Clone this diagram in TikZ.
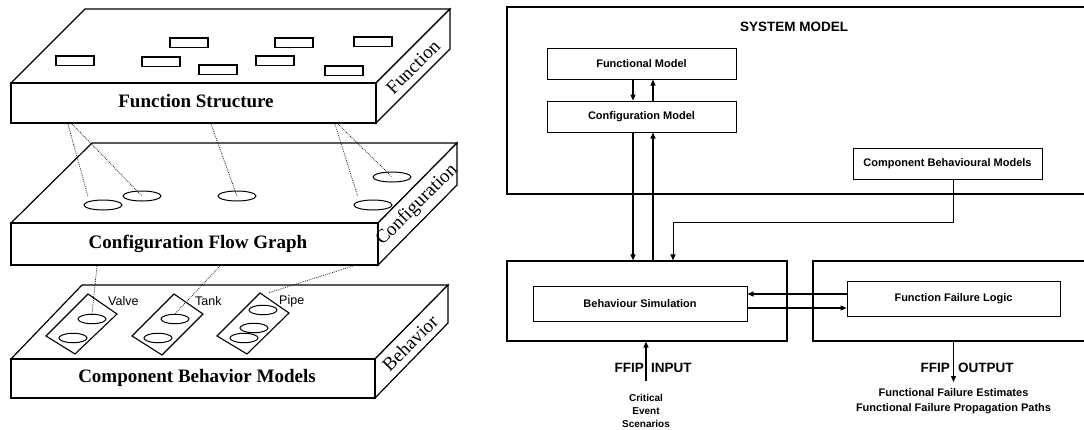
\documentclass[tikz,border=0pt]{standalone}
\usepackage{fontspec}
\setmainfont{Liberation Serif}
\setsansfont{Liberation Sans}
\usetikzlibrary{shapes.geometric,arrows.meta}

\begin{document}
\begin{tikzpicture}[x=1pt, y=-1pt,
  slab/.style={line width=1.2pt, fill=white},
  slabtext/.style={font=\fontsize{19}{22}\selectfont\bfseries, inner sep=0pt},
  sidetext/.style={font=\fontsize{19}{22}\selectfont, rotate=45, inner sep=0pt},
  fbox/.style={line width=1.1pt},
  cell/.style={draw, ellipse, line width=1pt, minimum width=38pt, minimum height=10pt, inner sep=0pt},
  part/.style={draw, ellipse, line width=1pt, minimum width=28pt, minimum height=9.5pt, inner sep=0pt},
  partname/.style={font=\sffamily\fontsize{12.5}{14}\selectfont, anchor=base west, inner sep=0pt},
  link/.style={line width=0.7pt, dash pattern=on 0.8pt off 1.1pt},
  model/.style={draw, line width=1pt, minimum width=189pt, minimum height=31pt, inner sep=0pt,
    font=\sffamily\bfseries\fontsize{11}{13}\selectfont},
  frame/.style={draw, line width=1.2pt, inner sep=0pt},
  arr/.style={line width=1.2pt, -{Triangle[length=6pt,width=5pt]}},
  io/.style={font=\sffamily\bfseries\fontsize{13.5}{16}\selectfont, inner sep=0pt},
  ]
  \useasboundingbox (0,0) rectangle (1084,429);
  \clip (0,0) rectangle (1084,429);

  % function layer
  \draw[slab] (11,83) -- (85,9) -- (450,9) -- (376,83) -- cycle;
  \draw[slab] (376,83) -- (450,9) -- (450,49) -- (376,123) -- cycle;
  \draw[slab] (11,83) rectangle (376,123);
  \node[slabtext, anchor=base] (fs) at (196,107) {Function Structure};
  \node[sidetext] (fside) at (413,67) {Function};
  \foreach \x/\y in {56/56, 170/38, 142/57, 199/65, 256/56, 275/38, 354/37, 325/66}
    \draw[fbox] (\x,\y) rectangle ++(38,9.5);

  % configuration layer
  \draw[slab] (11,223) -- (92,143) -- (457,143) -- (378,223) -- cycle;
  \draw[slab] (378,223) -- (457,143) -- (457,185) -- (378,265) -- cycle;
  \draw[slab] (11,223) rectangle (378,265);
  \node[slabtext, anchor=base] (cfg) at (198,248) {Configuration Flow Graph};
  \node[sidetext] (cside) at (417,205) {Configuration};
  \node[cell] (c1) at (103,205) {};
  \node[cell] (c2) at (142,196) {};
  \node[cell] (c3) at (237,196) {};
  \node[cell] (c4) at (392,177) {};
  \node[cell] (c5) at (373,205) {};

  % behavior layer
  \draw[slab] (11,359) -- (82,285) -- (448,285) -- (375,359) -- cycle;
  \draw[slab] (375,359) -- (448,285) -- (448,323) -- (375,398) -- cycle;
  \draw[slab] (11,359) rectangle (375,398);
  \node[slabtext, anchor=base] (cbl) at (197,382) {Component Behavior Models};
  \node[sidetext] (bside) at (410,343) {Behavior};
  \draw[fbox] (88,294) -- (117,314) -- (75,354) -- (46,336) -- cycle;
  \draw[fbox] (174,294) -- (203,314) -- (162,355) -- (132,336) -- cycle;
  \draw[fbox] (260,293) -- (289,313) -- (247,354) -- (217,336) -- cycle;
  \node[part] (v1) at (92,319) {};
  \node[part] (v2) at (73,338) {};
  \node[part] (t1) at (175,319) {};
  \node[part] (t2) at (158,338) {};
  \node[part] (p1) at (263,310) {};
  \node[part] (p2) at (254,328) {};
  \node[part] (p3) at (244,338) {};
  \node[partname] (valve) at (108,305) {Valve};
  \node[partname] (tank) at (195,305) {Tank};
  \node[partname] (pipe) at (279,304) {Pipe};

  % dotted links between layers
  \coordinate (f1) at (68,124);
  \coordinate (f2) at (72,124);
  \coordinate (f3) at (211,124);
  \coordinate (f4) at (335,124);
  \coordinate (f5) at (338,124);
  \draw[link, shorten >=5pt] (f1) -- (c1.north west);
  \draw[link] (f2) -- (c2.center);
  \draw[link] (f3) -- (c3.center);
  \draw[link, shorten >=5pt] (f4) -- (c5.north west);
  \draw[link] (f5) -- (c4.center);
  \coordinate (g1) at (97,266);
  \coordinate (g2) at (220,266);
  \coordinate (g3) at (353,266);
  \coordinate (pipebox) at (268,293);
  \draw[link] (g1) -- (v1.north);
  \draw[link] (g2) -- (t1.north);
  \draw[link] (g3) -- (pipebox);

  % system model
  \draw[frame] (507,7) rectangle (1090,194);
  \node[io] (sys) at (794,26.5) {SYSTEM MODEL};
  \node[model] (fm) at (641.5,63.5) {Functional Model};
  \node[model] (cm) at (641.5,116.5) {Configuration Model};
  \node[model] (cbm) at (947.5,163.5) {Component Behavioural Models};

  \node[frame, minimum width=280pt, minimum height=80pt] (bsbox) at (647,301) {};
  \node[model, minimum width=214pt, minimum height=35pt] (bs) at (640,303.5) {Behaviour Simulation};
  \node[frame, minimum width=277pt, minimum height=80pt] (ffbox) at (951.5,301) {};
  \node[model, minimum width=213pt, minimum height=35pt] (ffl) at (953.5,298.5) {Function Failure Logic};

  \draw[arr] ([xshift=-8.5pt]fm.south) -- ([xshift=-8.5pt]cm.north);
  \draw[arr] ([xshift=11.5pt]cm.north) -- ([xshift=11.5pt]fm.south);
  \draw[arr] ([xshift=-8.5pt]cm.south) -- ([xshift=-8.5pt]cm.south |- bsbox.north);
  \draw[arr] ([xshift=11.5pt]cm.south |- bsbox.north) -- ([xshift=11.5pt]cm.south);
  \coordinate (bend) at (673,222);
  \draw[arr, line width=1pt] ([xshift=5.5pt]cbm.south) |- (bend) -- (bend |- bsbox.north);
  \draw[arr] ([yshift=4.5pt]ffl.west) -- ([yshift=4.5pt]ffl.west -| bs.east);
  \draw[arr] ([yshift=-9.5pt]ffl.west -| bs.east) -- ([yshift=-9.5pt]ffl.west);

  % input and output
  \coordinate (inp) at (646,381);
  \draw[arr] (inp) -- (inp |- bsbox.south);
  \node[io, anchor=base east] (ffin) at (644,372) {FFIP};
  \node[io, anchor=base west] (inlbl) at (651,372) {INPUT};
  \node[align=center, inner sep=0pt, font=\sffamily\bfseries\fontsize{10}{13}\selectfont] (crit) at (646,410.5) {Critical\\Event\\Scenarios};

  \coordinate (outp) at (953.5,382);
  \draw[arr] (ffl.south |- ffbox.south) -- (outp);
  \node[io, anchor=base east] (ffout) at (950,372) {FFIP};
  \node[io, anchor=base west] (outlbl) at (958,372) {OUTPUT};
  \node[align=center, inner sep=0pt, font=\sffamily\bfseries\fontsize{11}{15}\selectfont] (est) at (953.5,401.5) {Functional Failure Estimates\\Functional Failure Propagation Paths};
\end{tikzpicture}
\end{document}
